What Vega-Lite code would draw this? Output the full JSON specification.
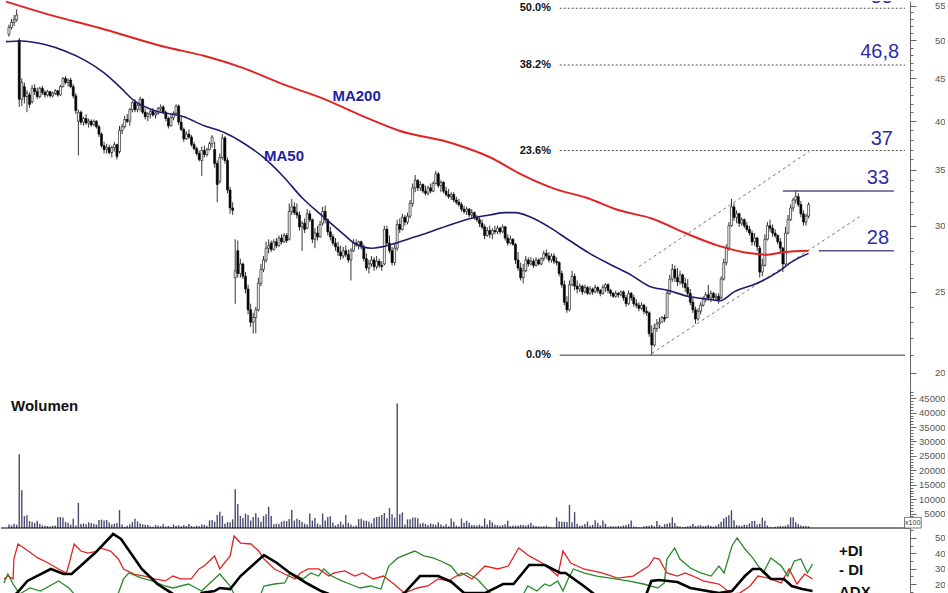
{
"$schema":"https://vega.github.io/schema/vega-lite/v6.json",
"padding":{"top":-3,"left":0,"right":0,"bottom":0},"spacing":0,"bounds":"flush","background":"white",
"config":{"view":{"stroke":null},"font":"Liberation Sans",
 "axis":{"domainColor":"#666","tickColor":"#666","labelColor":"#555","labelFontSize":9.5,"grid":false,"labelOverlap":false,"labelFlush":false,"labelAlign":"right","labelBaseline":"middle","labelPadding":29}},
"datasets":{
"c":[
{"i":0,"o":50.8,"h":52.2,"l":50.5,"c":51.8,"v":1200},{"i":1,"o":51.8,"h":53.0,"l":51.5,"c":52.5,"v":900},{"i":2,"o":52.5,"h":53.6,"l":52.0,"c":52.9,"v":1500},{"i":3,"o":52.9,"h":54.4,"l":52.6,"c":53.6,"v":1100},{"i":4,"o":50.0,"h":50.3,"l":41.6,"c":42.5,"v":25600},{"i":5,"o":42.5,"h":45.0,"l":41.7,"c":44.5,"v":13100},{"i":6,"o":44.0,"h":44.5,"l":42.0,"c":42.8,"v":4100},{"i":7,"o":42.8,"h":43.6,"l":41.0,"c":43.2,"v":4400},{"i":8,"o":43.0,"h":43.3,"l":41.5,"c":41.9,"v":2400},{"i":9,"o":42.2,"h":44.2,"l":42.0,"c":43.8,"v":2200},
{"i":10,"o":43.8,"h":44.3,"l":43.0,"c":43.4,"v":1800},{"i":11,"o":43.4,"h":43.9,"l":42.5,"c":42.8,"v":2500},{"i":12,"o":42.8,"h":44.0,"l":42.6,"c":43.8,"v":1400},{"i":13,"o":43.8,"h":44.1,"l":43.0,"c":43.3,"v":900},{"i":14,"o":43.3,"h":43.6,"l":42.7,"c":43.0,"v":800},{"i":15,"o":43.0,"h":43.6,"l":42.8,"c":43.4,"v":700},{"i":16,"o":43.4,"h":43.5,"l":42.7,"c":42.9,"v":600},{"i":17,"o":42.9,"h":43.4,"l":42.7,"c":43.2,"v":800},{"i":18,"o":43.2,"h":43.7,"l":43.0,"c":43.5,"v":900},{"i":19,"o":43.5,"h":43.6,"l":42.8,"c":43.0,"v":3700},
{"i":20,"o":43.0,"h":44.2,"l":42.9,"c":44.0,"v":3800},{"i":21,"o":44.0,"h":45.2,"l":43.9,"c":45.0,"v":3600},{"i":22,"o":45.0,"h":45.3,"l":44.3,"c":44.5,"v":2100},{"i":23,"o":44.5,"h":45.0,"l":44.0,"c":44.8,"v":1800},{"i":24,"o":44.8,"h":45.1,"l":43.8,"c":44.0,"v":1200},{"i":25,"o":44.0,"h":44.3,"l":42.6,"c":42.9,"v":3200},{"i":26,"o":42.9,"h":43.2,"l":40.8,"c":41.2,"v":900},{"i":27,"o":40.0,"h":41.3,"l":36.4,"c":41.0,"v":8700},{"i":28,"o":41.0,"h":41.2,"l":39.6,"c":39.9,"v":1400},{"i":29,"o":39.9,"h":40.5,"l":39.5,"c":40.3,"v":1600},
{"i":30,"o":40.3,"h":40.8,"l":39.6,"c":39.8,"v":1300},{"i":31,"o":39.8,"h":40.3,"l":39.3,"c":40.0,"v":2000},{"i":32,"o":40.0,"h":40.2,"l":39.4,"c":39.6,"v":1700},{"i":33,"o":39.6,"h":40.2,"l":39.5,"c":40.0,"v":1500},{"i":34,"o":40.0,"h":40.1,"l":39.2,"c":39.4,"v":1200},{"i":35,"o":39.4,"h":39.6,"l":38.3,"c":38.6,"v":2800},{"i":36,"o":38.6,"h":38.8,"l":37.2,"c":37.4,"v":2900},{"i":37,"o":37.4,"h":37.8,"l":36.6,"c":37.0,"v":2600},{"i":38,"o":37.0,"h":37.6,"l":36.6,"c":37.2,"v":2800},{"i":39,"o":37.2,"h":37.5,"l":36.5,"c":36.7,"v":1900},
{"i":40,"o":36.7,"h":37.4,"l":36.2,"c":37.2,"v":1200},{"i":41,"o":37.2,"h":37.8,"l":36.8,"c":37.5,"v":1500},{"i":42,"o":37.5,"h":37.6,"l":36.0,"c":36.3,"v":1700},{"i":43,"o":36.8,"h":39.5,"l":36.6,"c":39.0,"v":6200},{"i":44,"o":39.0,"h":39.7,"l":38.6,"c":39.4,"v":1200},{"i":45,"o":39.4,"h":40.6,"l":39.2,"c":40.2,"v":400},{"i":46,"o":40.2,"h":40.8,"l":39.8,"c":40.0,"v":800},{"i":47,"o":40.0,"h":41.5,"l":39.5,"c":41.3,"v":1300},{"i":48,"o":41.3,"h":42.3,"l":41.0,"c":42.1,"v":2100},{"i":49,"o":42.1,"h":42.5,"l":41.0,"c":41.3,"v":3200},
{"i":50,"o":41.3,"h":42.0,"l":41.0,"c":41.8,"v":2300},{"i":51,"o":41.8,"h":42.8,"l":41.1,"c":42.5,"v":1600},{"i":52,"o":42.5,"h":42.6,"l":40.8,"c":41.0,"v":1300},{"i":53,"o":41.0,"h":41.4,"l":40.2,"c":40.5,"v":1100},{"i":54,"o":40.5,"h":41.0,"l":40.0,"c":40.8,"v":1000},{"i":55,"o":40.8,"h":41.3,"l":40.3,"c":41.1,"v":600},{"i":56,"o":41.1,"h":41.5,"l":40.5,"c":40.7,"v":400},{"i":57,"o":40.7,"h":41.0,"l":40.3,"c":40.9,"v":1000},{"i":58,"o":40.9,"h":41.6,"l":40.7,"c":41.4,"v":900},{"i":59,"o":41.4,"h":41.9,"l":41.1,"c":41.6,"v":600},
{"i":60,"o":41.6,"h":41.8,"l":40.8,"c":41.0,"v":1300},{"i":61,"o":41.0,"h":41.2,"l":40.0,"c":40.3,"v":500},{"i":62,"o":40.3,"h":40.5,"l":39.2,"c":39.5,"v":700},{"i":63,"o":39.5,"h":40.7,"l":39.4,"c":40.4,"v":400},{"i":64,"o":40.4,"h":41.1,"l":40.1,"c":40.9,"v":1200},{"i":65,"o":40.9,"h":41.9,"l":40.6,"c":41.7,"v":800},{"i":66,"o":41.7,"h":41.9,"l":39.6,"c":39.9,"v":900},{"i":67,"o":39.9,"h":40.6,"l":38.9,"c":39.1,"v":600},{"i":68,"o":39.1,"h":39.3,"l":37.8,"c":38.1,"v":1000},{"i":69,"o":38.1,"h":38.9,"l":38.0,"c":38.6,"v":700},
{"i":70,"o":38.6,"h":39.1,"l":38.1,"c":38.3,"v":1400},{"i":71,"o":38.3,"h":38.5,"l":37.3,"c":37.5,"v":700},{"i":72,"o":37.5,"h":37.8,"l":36.9,"c":37.1,"v":500},{"i":73,"o":37.1,"h":37.3,"l":36.4,"c":36.6,"v":800},{"i":74,"o":36.6,"h":36.9,"l":35.8,"c":36.0,"v":600},{"i":75,"o":35.9,"h":37.3,"l":34.4,"c":36.9,"v":1200},{"i":76,"o":36.9,"h":37.4,"l":36.2,"c":36.5,"v":1100},{"i":77,"o":36.5,"h":37.2,"l":36.3,"c":37.0,"v":800},{"i":78,"o":37.0,"h":37.8,"l":36.9,"c":37.6,"v":2600},{"i":79,"o":37.6,"h":38.5,"l":37.2,"c":38.3,"v":2800},
{"i":80,"o":37.0,"h":37.8,"l":35.2,"c":35.6,"v":2200},{"i":81,"o":35.6,"h":35.9,"l":32.0,"c":33.6,"v":4500},{"i":82,"o":33.9,"h":36.6,"l":33.7,"c":36.2,"v":5600},{"i":83,"o":36.2,"h":38.6,"l":36.0,"c":38.2,"v":4200},{"i":84,"o":38.2,"h":38.4,"l":35.6,"c":35.9,"v":1500},{"i":85,"o":35.9,"h":36.2,"l":32.8,"c":33.1,"v":2100},{"i":86,"o":33.1,"h":33.4,"l":31.0,"c":31.5,"v":2000},{"i":87,"o":31.5,"h":32.0,"l":30.9,"c":31.3,"v":3000},{"i":88,"o":26.0,"h":28.9,"l":24.2,"c":26.5,"v":13400},{"i":89,"o":28.0,"h":28.8,"l":26.0,"c":26.3,"v":8300},
{"i":90,"o":26.3,"h":27.4,"l":26.0,"c":27.0,"v":4200},{"i":91,"o":27.0,"h":27.1,"l":25.9,"c":26.1,"v":3500},{"i":92,"o":26.1,"h":26.4,"l":24.9,"c":25.2,"v":5000},{"i":93,"o":25.2,"h":25.5,"l":23.5,"c":23.8,"v":4500},{"i":94,"o":23.8,"h":24.2,"l":22.7,"c":23.0,"v":2600},{"i":95,"o":23.0,"h":23.6,"l":22.3,"c":23.3,"v":3800},{"i":96,"o":23.3,"h":24.0,"l":22.3,"c":23.8,"v":5100},{"i":97,"o":23.8,"h":26.0,"l":23.7,"c":25.6,"v":3600},{"i":98,"o":25.6,"h":27.0,"l":25.4,"c":26.6,"v":2200},{"i":99,"o":26.6,"h":27.6,"l":26.4,"c":27.3,"v":4100},
{"i":100,"o":27.3,"h":28.7,"l":27.1,"c":28.2,"v":4800},{"i":101,"o":28.2,"h":28.9,"l":27.8,"c":28.4,"v":7300},{"i":102,"o":28.6,"h":28.8,"l":27.9,"c":28.1,"v":4200},{"i":103,"o":28.1,"h":28.9,"l":28.0,"c":28.7,"v":1300},{"i":104,"o":28.7,"h":29.0,"l":28.2,"c":28.4,"v":1500},{"i":105,"o":28.4,"h":29.2,"l":28.3,"c":29.0,"v":1400},{"i":106,"o":29.0,"h":29.3,"l":28.5,"c":28.7,"v":2200},{"i":107,"o":28.7,"h":29.4,"l":28.6,"c":29.2,"v":2500},{"i":108,"o":29.2,"h":29.4,"l":28.6,"c":28.8,"v":2400},{"i":109,"o":28.9,"h":31.9,"l":28.8,"c":31.2,"v":3100},
{"i":110,"o":31.2,"h":32.3,"l":30.9,"c":31.6,"v":6200},{"i":111,"o":31.6,"h":32.0,"l":30.9,"c":31.1,"v":2600},{"i":112,"o":31.1,"h":31.9,"l":30.6,"c":30.9,"v":3200},{"i":113,"o":30.9,"h":31.2,"l":29.6,"c":29.9,"v":2800},{"i":114,"o":29.9,"h":30.4,"l":28.0,"c":30.2,"v":2100},{"i":115,"o":30.2,"h":30.6,"l":29.4,"c":29.7,"v":1500},{"i":116,"o":29.8,"h":31.4,"l":29.7,"c":31.0,"v":1200},{"i":117,"o":31.0,"h":31.3,"l":30.3,"c":30.5,"v":5000},{"i":118,"o":30.5,"h":30.6,"l":28.6,"c":28.9,"v":2600},{"i":119,"o":28.9,"h":29.8,"l":28.2,"c":29.4,"v":3500},
{"i":120,"o":29.4,"h":30.0,"l":28.8,"c":29.1,"v":1600},{"i":121,"o":29.1,"h":30.4,"l":29.0,"c":30.1,"v":1000},{"i":122,"o":30.2,"h":31.6,"l":30.0,"c":31.2,"v":5000},{"i":123,"o":31.2,"h":31.7,"l":30.2,"c":30.5,"v":2600},{"i":124,"o":30.5,"h":30.6,"l":29.2,"c":29.5,"v":3800},{"i":125,"o":29.5,"h":29.9,"l":28.8,"c":29.1,"v":4100},{"i":126,"o":29.1,"h":29.3,"l":28.4,"c":28.6,"v":1800},{"i":127,"o":28.6,"h":29.0,"l":28.0,"c":28.3,"v":900},{"i":128,"o":28.3,"h":28.7,"l":27.6,"c":27.9,"v":1400},{"i":129,"o":27.9,"h":28.4,"l":27.3,"c":27.6,"v":2200},
{"i":130,"o":27.6,"h":28.3,"l":27.4,"c":28.0,"v":1200},{"i":131,"o":28.0,"h":28.4,"l":27.5,"c":27.7,"v":4500},{"i":132,"o":27.7,"h":28.1,"l":27.1,"c":27.3,"v":1800},{"i":133,"o":27.3,"h":28.2,"l":25.8,"c":28.0,"v":1200},{"i":134,"o":28.0,"h":28.9,"l":27.9,"c":28.6,"v":600},{"i":135,"o":28.6,"h":28.9,"l":28.3,"c":28.5,"v":900},{"i":136,"o":28.5,"h":28.8,"l":28.1,"c":28.7,"v":3100},{"i":137,"o":28.7,"h":28.8,"l":28.1,"c":28.3,"v":3200},{"i":138,"o":28.3,"h":28.5,"l":27.2,"c":27.4,"v":2600},{"i":139,"o":27.4,"h":27.8,"l":26.5,"c":26.7,"v":2500},
{"i":140,"o":26.7,"h":27.3,"l":26.3,"c":27.0,"v":2200},{"i":141,"o":27.0,"h":27.6,"l":26.8,"c":27.3,"v":1600},{"i":142,"o":27.3,"h":27.5,"l":26.5,"c":26.8,"v":3500},{"i":143,"o":26.8,"h":27.6,"l":26.6,"c":27.2,"v":3800},{"i":144,"o":27.2,"h":27.4,"l":26.7,"c":26.9,"v":4000},{"i":145,"o":26.9,"h":27.2,"l":26.5,"c":26.8,"v":4500},{"i":146,"o":27.0,"h":30.0,"l":26.9,"c":29.7,"v":5200},{"i":147,"o":29.7,"h":30.0,"l":28.4,"c":28.6,"v":3400},{"i":148,"o":28.6,"h":29.2,"l":27.8,"c":28.0,"v":6900},{"i":149,"o":28.0,"h":28.3,"l":26.9,"c":27.1,"v":4800},
{"i":150,"o":27.1,"h":28.5,"l":26.9,"c":28.2,"v":3600},{"i":151,"o":28.2,"h":30.5,"l":28.0,"c":30.1,"v":43200},{"i":152,"o":30.1,"h":30.6,"l":29.4,"c":29.7,"v":4800},{"i":153,"o":29.7,"h":31.0,"l":29.6,"c":30.7,"v":5400},{"i":154,"o":30.7,"h":30.9,"l":30.0,"c":30.3,"v":1200},{"i":155,"o":30.3,"h":31.1,"l":30.1,"c":30.8,"v":3000},{"i":156,"o":30.8,"h":32.2,"l":30.6,"c":31.9,"v":3000},{"i":157,"o":31.9,"h":33.7,"l":31.6,"c":33.3,"v":3600},{"i":158,"o":33.3,"h":34.5,"l":32.9,"c":34.0,"v":3600},{"i":159,"o":34.0,"h":34.1,"l":33.0,"c":33.3,"v":3400},
{"i":160,"o":33.3,"h":33.9,"l":33.0,"c":33.6,"v":1500},{"i":161,"o":33.6,"h":33.7,"l":32.8,"c":33.0,"v":1800},{"i":162,"o":33.0,"h":33.5,"l":32.6,"c":32.8,"v":1400},{"i":163,"o":32.8,"h":33.5,"l":32.6,"c":33.3,"v":1000},{"i":164,"o":33.3,"h":33.7,"l":32.8,"c":33.0,"v":1600},{"i":165,"o":33.0,"h":33.9,"l":32.9,"c":33.7,"v":1300},{"i":166,"o":33.7,"h":34.9,"l":33.6,"c":34.6,"v":1100},{"i":167,"o":34.6,"h":34.8,"l":33.3,"c":33.5,"v":2000},{"i":168,"o":33.5,"h":34.0,"l":32.9,"c":33.8,"v":1200},{"i":169,"o":33.8,"h":33.9,"l":32.8,"c":33.0,"v":700},
{"i":170,"o":33.0,"h":33.4,"l":32.5,"c":32.7,"v":1300},{"i":171,"o":32.7,"h":33.2,"l":32.3,"c":32.5,"v":600},{"i":172,"o":32.5,"h":32.9,"l":32.2,"c":32.7,"v":3300},{"i":173,"o":32.7,"h":32.9,"l":32.0,"c":32.2,"v":2200},{"i":174,"o":32.2,"h":32.5,"l":31.8,"c":32.0,"v":800},{"i":175,"o":32.0,"h":32.3,"l":31.6,"c":31.8,"v":500},{"i":176,"o":31.8,"h":32.0,"l":31.2,"c":31.4,"v":3300},{"i":177,"o":31.4,"h":31.7,"l":31.0,"c":31.2,"v":1800},{"i":178,"o":31.2,"h":31.6,"l":30.9,"c":31.4,"v":2500},{"i":179,"o":31.4,"h":31.5,"l":30.7,"c":30.9,"v":1800},
{"i":180,"o":30.9,"h":31.4,"l":30.6,"c":31.1,"v":1000},{"i":181,"o":31.1,"h":31.2,"l":30.5,"c":30.7,"v":1000},{"i":182,"o":30.7,"h":30.9,"l":30.3,"c":30.5,"v":900},{"i":183,"o":30.5,"h":30.8,"l":29.9,"c":30.2,"v":1200},{"i":184,"o":30.2,"h":30.5,"l":29.7,"c":29.9,"v":700},{"i":185,"o":29.9,"h":30.1,"l":28.9,"c":29.2,"v":3300},{"i":186,"o":29.2,"h":29.9,"l":29.1,"c":29.6,"v":1200},{"i":187,"o":29.6,"h":30.0,"l":29.0,"c":29.3,"v":2700},{"i":188,"o":29.3,"h":29.8,"l":28.9,"c":29.6,"v":2000},{"i":189,"o":29.6,"h":30.0,"l":29.3,"c":29.5,"v":1100},
{"i":190,"o":29.5,"h":30.0,"l":29.3,"c":29.8,"v":1000},{"i":191,"o":29.8,"h":29.9,"l":29.3,"c":29.5,"v":800},{"i":192,"o":29.5,"h":30.1,"l":29.4,"c":29.9,"v":1000},{"i":193,"o":29.9,"h":30.0,"l":28.8,"c":29.0,"v":1300},{"i":194,"o":29.0,"h":29.3,"l":28.4,"c":28.6,"v":2500},{"i":195,"o":28.6,"h":29.2,"l":28.5,"c":28.9,"v":700},{"i":196,"o":28.9,"h":29.0,"l":28.4,"c":28.5,"v":900},{"i":197,"o":28.5,"h":28.6,"l":27.0,"c":27.3,"v":800},{"i":198,"o":27.3,"h":27.9,"l":26.5,"c":26.7,"v":900},{"i":199,"o":26.7,"h":27.1,"l":25.8,"c":26.0,"v":1100},
{"i":200,"o":26.0,"h":27.0,"l":25.6,"c":26.5,"v":1000},{"i":201,"o":26.5,"h":27.6,"l":26.4,"c":27.3,"v":900},{"i":202,"o":27.3,"h":27.5,"l":26.8,"c":27.0,"v":1200},{"i":203,"o":27.0,"h":27.5,"l":26.9,"c":27.2,"v":1800},{"i":204,"o":27.2,"h":27.4,"l":26.7,"c":26.9,"v":900},{"i":205,"o":26.9,"h":27.5,"l":26.8,"c":27.3,"v":700},{"i":206,"o":27.3,"h":27.4,"l":26.9,"c":27.0,"v":600},{"i":207,"o":27.0,"h":27.5,"l":26.9,"c":27.4,"v":500},{"i":208,"o":27.4,"h":28.0,"l":27.2,"c":27.8,"v":600},{"i":209,"o":27.8,"h":28.1,"l":27.4,"c":27.6,"v":800},
{"i":210,"o":27.6,"h":27.9,"l":27.1,"c":27.3,"v":400},{"i":211,"o":27.3,"h":27.8,"l":27.1,"c":27.6,"v":200},{"i":212,"o":27.6,"h":27.8,"l":27.0,"c":27.2,"v":100},{"i":213,"o":27.2,"h":27.5,"l":26.9,"c":27.1,"v":3700},{"i":214,"o":27.1,"h":27.2,"l":26.1,"c":26.3,"v":2300},{"i":215,"o":26.3,"h":26.5,"l":25.3,"c":25.5,"v":2200},{"i":216,"o":25.5,"h":25.8,"l":24.1,"c":24.3,"v":2200},{"i":217,"o":24.3,"h":24.7,"l":23.6,"c":23.8,"v":2100},{"i":218,"o":23.8,"h":25.8,"l":23.7,"c":25.5,"v":8000},{"i":219,"o":25.5,"h":26.5,"l":25.4,"c":26.1,"v":2000},
{"i":220,"o":26.1,"h":26.3,"l":25.1,"c":25.4,"v":5500},{"i":221,"o":25.4,"h":25.8,"l":24.9,"c":25.2,"v":1500},{"i":222,"o":25.2,"h":25.6,"l":25.0,"c":25.4,"v":800},{"i":223,"o":25.4,"h":25.5,"l":24.8,"c":25.0,"v":900},{"i":224,"o":25.0,"h":25.5,"l":24.9,"c":25.3,"v":1400},{"i":225,"o":25.3,"h":25.4,"l":24.8,"c":24.9,"v":2200},{"i":226,"o":24.9,"h":25.4,"l":24.8,"c":25.2,"v":900},{"i":227,"o":25.2,"h":25.3,"l":24.8,"c":25.0,"v":1100},{"i":228,"o":25.0,"h":25.5,"l":24.9,"c":25.3,"v":2700},{"i":229,"o":25.3,"h":25.4,"l":24.9,"c":25.1,"v":1800},
{"i":230,"o":25.1,"h":25.2,"l":24.7,"c":24.9,"v":900},{"i":231,"o":24.9,"h":25.5,"l":24.8,"c":25.3,"v":2600},{"i":232,"o":25.3,"h":25.6,"l":25.0,"c":25.5,"v":1500},{"i":233,"o":25.5,"h":25.6,"l":24.9,"c":25.1,"v":400},{"i":234,"o":25.1,"h":25.2,"l":24.7,"c":24.9,"v":600},{"i":235,"o":24.9,"h":25.0,"l":24.6,"c":24.7,"v":600},{"i":236,"o":24.7,"h":25.1,"l":24.6,"c":24.9,"v":500},{"i":237,"o":24.9,"h":25.0,"l":24.6,"c":24.8,"v":700},{"i":238,"o":24.8,"h":25.1,"l":24.7,"c":25.0,"v":600},{"i":239,"o":25.0,"h":25.1,"l":24.4,"c":24.6,"v":900},
{"i":240,"o":24.6,"h":24.8,"l":24.0,"c":24.2,"v":1000},{"i":241,"o":24.2,"h":25.1,"l":24.1,"c":24.9,"v":1400},{"i":242,"o":24.9,"h":25.0,"l":24.4,"c":24.6,"v":2600},{"i":243,"o":24.6,"h":24.8,"l":24.0,"c":24.2,"v":500},{"i":244,"o":24.2,"h":24.5,"l":23.9,"c":24.1,"v":400},{"i":245,"o":24.1,"h":24.3,"l":23.7,"c":23.9,"v":300},{"i":246,"o":23.9,"h":24.3,"l":23.8,"c":24.1,"v":200},{"i":247,"o":24.1,"h":24.2,"l":23.5,"c":23.7,"v":600},{"i":248,"o":23.7,"h":24.0,"l":23.4,"c":23.6,"v":700},{"i":249,"o":23.6,"h":23.7,"l":22.1,"c":22.3,"v":800},
{"i":250,"o":22.3,"h":22.8,"l":21.0,"c":21.6,"v":1000},{"i":251,"o":21.6,"h":22.9,"l":21.5,"c":22.6,"v":600},{"i":252,"o":22.6,"h":23.2,"l":22.4,"c":22.9,"v":2400},{"i":253,"o":22.9,"h":23.3,"l":22.6,"c":23.0,"v":1100},{"i":254,"o":23.0,"h":23.4,"l":23.0,"c":23.3,"v":500},{"i":255,"o":23.3,"h":23.5,"l":23.0,"c":23.2,"v":1300},{"i":256,"o":23.3,"h":25.1,"l":23.3,"c":24.9,"v":1500},{"i":257,"o":24.9,"h":26.2,"l":24.8,"c":25.9,"v":1800},{"i":258,"o":25.9,"h":27.0,"l":25.7,"c":26.6,"v":3700},{"i":259,"o":26.6,"h":26.9,"l":25.7,"c":26.0,"v":1700},
{"i":260,"o":26.0,"h":26.7,"l":25.4,"c":25.7,"v":700},{"i":261,"o":25.7,"h":26.5,"l":25.5,"c":26.2,"v":500},{"i":262,"o":26.2,"h":26.3,"l":25.3,"c":25.6,"v":300},{"i":263,"o":25.6,"h":26.0,"l":25.0,"c":25.3,"v":400},{"i":264,"o":25.3,"h":25.9,"l":24.7,"c":24.9,"v":600},{"i":265,"o":24.9,"h":25.2,"l":24.1,"c":24.3,"v":800},{"i":266,"o":24.3,"h":24.6,"l":23.6,"c":23.8,"v":1400},{"i":267,"o":23.8,"h":24.0,"l":22.9,"c":23.2,"v":700},{"i":268,"o":23.2,"h":23.9,"l":23.1,"c":23.7,"v":900},{"i":269,"o":23.7,"h":24.3,"l":23.5,"c":24.1,"v":1000},
{"i":270,"o":24.1,"h":24.7,"l":24.0,"c":24.5,"v":600},{"i":271,"o":24.5,"h":25.0,"l":24.3,"c":24.8,"v":800},{"i":272,"o":24.8,"h":25.5,"l":24.4,"c":24.6,"v":1000},{"i":273,"o":24.6,"h":25.1,"l":24.3,"c":24.9,"v":700},{"i":274,"o":24.9,"h":25.0,"l":24.4,"c":24.6,"v":500},{"i":275,"o":24.6,"h":24.9,"l":24.4,"c":24.7,"v":800},{"i":276,"o":24.7,"h":24.9,"l":24.2,"c":24.4,"v":1300},{"i":277,"o":24.6,"h":26.1,"l":24.5,"c":25.9,"v":2200},{"i":278,"o":25.9,"h":27.4,"l":25.8,"c":27.1,"v":3300},{"i":279,"o":27.1,"h":28.5,"l":26.9,"c":28.2,"v":3800},
{"i":280,"o":28.2,"h":30.3,"l":28.0,"c":30.0,"v":4400},{"i":281,"o":30.0,"h":32.3,"l":29.9,"c":31.6,"v":6200},{"i":282,"o":31.6,"h":31.9,"l":30.4,"c":30.7,"v":2700},{"i":283,"o":30.7,"h":31.3,"l":30.2,"c":31.0,"v":1000},{"i":284,"o":31.0,"h":31.1,"l":29.9,"c":30.2,"v":900},{"i":285,"o":30.2,"h":30.7,"l":30.0,"c":30.5,"v":800},{"i":286,"o":30.5,"h":30.6,"l":29.8,"c":30.0,"v":1200},{"i":287,"o":30.0,"h":30.3,"l":29.5,"c":29.7,"v":1000},{"i":288,"o":29.7,"h":30.0,"l":29.2,"c":29.4,"v":1600},{"i":289,"o":29.4,"h":29.6,"l":28.4,"c":28.7,"v":2400},
{"i":290,"o":28.7,"h":29.4,"l":28.4,"c":29.0,"v":2500},{"i":291,"o":29.0,"h":29.1,"l":28.0,"c":28.3,"v":1200},{"i":292,"o":28.2,"h":28.4,"l":26.0,"c":26.4,"v":1500},{"i":293,"o":26.4,"h":27.4,"l":26.1,"c":26.9,"v":3600},{"i":294,"o":26.9,"h":29.3,"l":26.8,"c":28.9,"v":2500},{"i":295,"o":28.9,"h":30.3,"l":28.8,"c":30.0,"v":900},{"i":296,"o":30.0,"h":30.5,"l":29.5,"c":29.8,"v":300},{"i":297,"o":29.8,"h":30.1,"l":29.1,"c":29.4,"v":200},{"i":298,"o":29.4,"h":29.7,"l":29.0,"c":29.2,"v":400},{"i":299,"o":29.2,"h":29.3,"l":28.5,"c":28.7,"v":500},
{"i":300,"o":28.7,"h":29.0,"l":27.9,"c":28.2,"v":700},{"i":301,"o":28.2,"h":28.3,"l":26.4,"c":27.0,"v":600},{"i":302,"o":27.0,"h":29.9,"l":26.9,"c":29.4,"v":800},{"i":303,"o":29.4,"h":30.9,"l":29.3,"c":30.5,"v":1200},{"i":304,"o":30.5,"h":31.8,"l":30.4,"c":31.5,"v":3700},{"i":305,"o":31.5,"h":32.4,"l":31.2,"c":32.2,"v":3700},{"i":306,"o":32.2,"h":33.1,"l":31.9,"c":32.5,"v":2000},{"i":307,"o":32.5,"h":32.8,"l":31.6,"c":31.8,"v":1300},{"i":308,"o":31.8,"h":32.1,"l":30.7,"c":31.0,"v":900},{"i":309,"o":31.0,"h":31.3,"l":30.0,"c":30.3,"v":700},
{"i":310,"o":30.3,"h":31.0,"l":30.0,"c":30.8,"v":800},{"i":311,"o":30.8,"h":32.0,"l":30.6,"c":31.8,"v":600}
],
"ma50":[{"i":-1.15,"p":49.8},{"i":4.6,"p":49.9},{"i":14,"p":49.4},{"i":22,"p":48.5},{"i":29.6,"p":47.3},{"i":37,"p":45.7},{"i":43,"p":44.0},{"i":48.8,"p":42.3},{"i":56.5,"p":41.2},{"i":68,"p":40.5},{"i":76,"p":39.5},{"i":83.5,"p":38.8},{"i":91,"p":37.7},{"i":99,"p":36.2},{"i":106.5,"p":34.4},{"i":114,"p":32.4},{"i":122,"p":30.8},{"i":129.6,"p":29.4},{"i":135,"p":28.5},{"i":141,"p":28.2},{"i":149,"p":28.5},{"i":156.5,"p":29.0},{"i":164,"p":29.5},{"i":172,"p":30.1},{"i":179.6,"p":30.6},{"i":187,"p":30.9},{"i":193,"p":31.1},{"i":197,"p":31.1},{"i":203,"p":30.7},{"i":210,"p":29.9},{"i":218,"p":28.8},{"i":225.8,"p":27.8},{"i":233.5,"p":27.0},{"i":241,"p":26.3},{"i":249,"p":25.4},{"i":256.5,"p":25.1},{"i":264,"p":24.7},{"i":272,"p":24.5},{"i":276.5,"p":24.4},{"i":282,"p":25.0},{"i":291,"p":25.6},{"i":299,"p":26.4},{"i":304,"p":27.1},{"i":311,"p":27.8}],
"ma200":[{"i":-1.15,"p":55.6},{"i":14.2,"p":53.8},{"i":37.3,"p":51.5},{"i":60.4,"p":49.1},{"i":75.8,"p":47.9},{"i":91.2,"p":46.3},{"i":106.5,"p":44.3},{"i":122,"p":42.6},{"i":137.3,"p":40.6},{"i":151.5,"p":39.0},{"i":173,"p":37.6},{"i":187.3,"p":36.2},{"i":198.8,"p":34.6},{"i":212.3,"p":33.2},{"i":224.6,"p":32.4},{"i":237.3,"p":31.3},{"i":250,"p":30.6},{"i":263,"p":29.4},{"i":275.8,"p":28.4},{"i":288.5,"p":27.8},{"i":295,"p":27.7},{"i":301.5,"p":27.9},{"i":311,"p":28.0}],
"adx":[{"i":0,"v":9},{"i":5,"v":14.1},{"i":9,"v":22.0},{"i":18,"v":29.8},{"i":23,"v":26.5},{"i":26,"v":26.5},{"i":35,"v":40.2},{"i":42,"v":52.6},{"i":45,"v":49.4},{"i":53,"v":29.8},{"i":59,"v":20.0},{"i":65,"v":13.5},{"i":70,"v":11},{"i":75,"v":11},{"i":76,"v":14.1},{"i":81,"v":15.4},{"i":83,"v":17.4},{"i":87,"v":16.7},{"i":91,"v":25.2},{"i":100,"v":38.9},{"i":105,"v":33.7},{"i":110,"v":27.2},{"i":117,"v":20.0},{"i":122,"v":15.4},{"i":125,"v":13.5},{"i":135,"v":10},{"i":145,"v":10},{"i":150,"v":11},{"i":154,"v":14.1},{"i":160,"v":25.2},{"i":167,"v":25.2},{"i":172,"v":21.5},{"i":177,"v":14.1},{"i":185,"v":14.1},{"i":192,"v":20.0},{"i":196,"v":20.0},{"i":202,"v":32.4},{"i":208,"v":32.4},{"i":214,"v":27.2},{"i":216,"v":27.2},{"i":223,"v":18.7},{"i":227,"v":13.5},{"i":235,"v":9},{"i":245,"v":9},{"i":247,"v":13},{"i":249,"v":22.0},{"i":252,"v":22.6},{"i":259,"v":21.3},{"i":264,"v":17.4},{"i":275,"v":14.1},{"i":280,"v":15.4},{"i":285,"v":25.2},{"i":288,"v":29.8},{"i":291,"v":29.8},{"i":295,"v":23.3},{"i":300,"v":23.3},{"i":303,"v":18.7},{"i":307,"v":16.7},{"i":311,"v":15.4}],
"mdi":[{"i":0,"v":23.3},{"i":1.5,"v":25.2},{"i":3.5,"v":23.3},{"i":3.8,"v":36.3},{"i":5.4,"v":46.1},{"i":7.7,"v":43.5},{"i":10.4,"v":40.2},{"i":13,"v":37.0},{"i":17,"v":33.7},{"i":21,"v":29.8},{"i":24,"v":27.2},{"i":25,"v":33.0},{"i":27,"v":46.1},{"i":29.6,"v":41.5},{"i":32.3,"v":40.2},{"i":36,"v":41.5},{"i":37,"v":43.5},{"i":41,"v":41.5},{"i":44,"v":36.3},{"i":46,"v":29.8},{"i":50,"v":26.5},{"i":54,"v":25.2},{"i":58,"v":23.3},{"i":62,"v":22.0},{"i":65,"v":25.2},{"i":68,"v":23.3},{"i":72,"v":23.3},{"i":75,"v":29.8},{"i":77,"v":31.7},{"i":81,"v":38.3},{"i":83,"v":29.8},{"i":87,"v":38.3},{"i":88.5,"v":51.3},{"i":91,"v":46.7},{"i":95,"v":46.1},{"i":98,"v":41.5},{"i":100,"v":36.3},{"i":104,"v":29.8},{"i":108,"v":26.5},{"i":112,"v":23.3},{"i":114,"v":27.2},{"i":117,"v":29.8},{"i":121,"v":29.8},{"i":125,"v":25.2},{"i":127,"v":27.2},{"i":131,"v":28.5},{"i":135,"v":25.2},{"i":138,"v":27.2},{"i":142,"v":23.3},{"i":146,"v":25.2},{"i":150,"v":20.0},{"i":154,"v":14.1},{"i":159,"v":17.4},{"i":163,"v":18.7},{"i":167,"v":23.3},{"i":171,"v":22.0},{"i":176,"v":27.2},{"i":180,"v":23.3},{"i":185,"v":31.7},{"i":190,"v":29.8},{"i":194,"v":31.7},{"i":198,"v":43.5},{"i":202,"v":38.3},{"i":207,"v":33.7},{"i":210,"v":29.8},{"i":213,"v":25.2},{"i":215,"v":41.5},{"i":218,"v":33.7},{"i":223,"v":29.8},{"i":230,"v":27.2},{"i":236,"v":23.9},{"i":242,"v":25.2},{"i":248,"v":31.7},{"i":250,"v":37.0},{"i":252,"v":36.3},{"i":255,"v":27.2},{"i":259,"v":25.2},{"i":262,"v":27.2},{"i":265,"v":25.2},{"i":269,"v":22.0},{"i":275,"v":20.0},{"i":280,"v":13.5},{"i":283,"v":14.1},{"i":287,"v":18.7},{"i":290,"v":25.2},{"i":294,"v":23.9},{"i":299,"v":20.7},{"i":302,"v":29.8},{"i":305,"v":20.0},{"i":308,"v":26.5},{"i":311,"v":23.3}],
"pdi":[{"i":0,"v":20.7},{"i":1.5,"v":26.5},{"i":3.5,"v":20.0},{"i":6,"v":13.5},{"i":10,"v":17.4},{"i":14,"v":15.4},{"i":21,"v":22.0},{"i":25,"v":17.4},{"i":27,"v":13.5},{"i":35,"v":10},{"i":40,"v":10},{"i":44,"v":14.1},{"i":46,"v":23.3},{"i":48,"v":27.2},{"i":53,"v":23.9},{"i":57,"v":22.0},{"i":62,"v":18.7},{"i":65,"v":17.4},{"i":71,"v":20.0},{"i":76,"v":15.4},{"i":78,"v":18.7},{"i":83,"v":26.5},{"i":87,"v":18.7},{"i":88.5,"v":13.5},{"i":92,"v":10},{"i":98,"v":10},{"i":100,"v":18.7},{"i":104,"v":20.0},{"i":108,"v":20.7},{"i":110,"v":27.2},{"i":113,"v":25.2},{"i":115,"v":23.3},{"i":118,"v":27.2},{"i":121,"v":25.2},{"i":123,"v":29.8},{"i":126,"v":25.2},{"i":130,"v":22.0},{"i":133,"v":20.0},{"i":137,"v":17.4},{"i":141,"v":18.7},{"i":145,"v":16.7},{"i":148,"v":31.7},{"i":151.5,"v":37.0},{"i":158,"v":41.5},{"i":161.5,"v":38.3},{"i":165,"v":37.0},{"i":168,"v":35.0},{"i":172,"v":31.7},{"i":175,"v":25.2},{"i":178,"v":27.2},{"i":182,"v":23.3},{"i":187,"v":14.1},{"i":190,"v":11},{"i":199,"v":11},{"i":200,"v":14.1},{"i":201.5,"v":18.7},{"i":205,"v":15.4},{"i":208,"v":20.0},{"i":210,"v":18.7},{"i":213,"v":22.0},{"i":215,"v":15.4},{"i":217,"v":23.3},{"i":219,"v":29.8},{"i":223,"v":27.2},{"i":228,"v":25.2},{"i":235,"v":23.3},{"i":240,"v":22.0},{"i":246,"v":20.0},{"i":251.5,"v":17.4},{"i":254,"v":20.7},{"i":255,"v":36.3},{"i":258,"v":43.5},{"i":260,"v":36.3},{"i":264,"v":30.4},{"i":268,"v":27.2},{"i":272,"v":25.2},{"i":275,"v":31.7},{"i":277,"v":27.2},{"i":280,"v":44.8},{"i":282,"v":50.0},{"i":285,"v":42.8},{"i":288,"v":37.0},{"i":292,"v":27.2},{"i":295,"v":37.0},{"i":299,"v":31.7},{"i":301.5,"v":25.2},{"i":304,"v":35.0},{"i":306.5,"v":36.3},{"i":309,"v":27.2},{"i":311,"v":33.0}],
"fib":[{"p":54.6,"t":"50.0%"},{"p":46.7,"t":"38.2%"},{"p":36.9,"t":"23.6%"}],
"fib0":[{"p":21.0,"t":"0.0%"}],
"tgt":[{"p":56.3,"t":"55","e":343.8},{"p":48.4,"t":"46,8","e":346.2},{"p":38.1,"t":"37","e":343.8},{"p":34.2,"t":"33","e":342.3},{"p":29.0,"t":"28","e":342.3}],
"lvl":[{"p":33.0,"a":301,"b":344.2},{"p":28.0,"a":315,"b":344.2}],
"chan":[{"a":245,"pa":26.8,"b":311.2,"pb":36.8},{"a":250,"pa":21.1,"b":331.9,"pb":30.9}],
"malbl":[{"t":"MA200","i":125.8,"p":42.9},{"t":"MA50","i":99.2,"p":36.3}],
"dilbl":[{"t":"+DI","v":41.5},{"t":"- DI","v":29.1},{"t":"ADX","v":14.6}],
"vlbl":[{"t":"Wolumen","i":0.8,"v":42300}],
"zero":[{"k":0}],
"xbox":[{"t":"x100","a":348.3,"b":354.8,"lo":0,"hi":3700,"m":351.5,"mv":1850}]
},
"vconcat":[
{"width":909,"height":390,
 "resolve":{"axis":{"x":"independent","y":"independent"}},
 "layer":[
  {"data":{"name":"c"},"mark":{"type":"rule","color":"#000","strokeWidth":0.8},
   "encoding":{"x":{"field":"i","type":"quantitative","scale":{"domain":[-1.15,348.5],"nice":false,"zero":false},"axis":null},
    "y":{"field":"l","type":"quantitative","title":null,"scale":{"type":"log","domain":[19.03,55.7],"nice":false,"zero":false},
     "axis":{"orient":"right","title":null,"values":[20,21,22,23,24,25,26,27,28,29,30,31,32,33,34,35,36,37,38,39,40,41,42,43,44,45,46,47,48,49,50,51,52,53,54,55],
      "labelExpr":"datum.value % 5 === 0 ? '' + datum.value : ''",
      "tickSize":{"condition":{"test":"datum.value % 5 === 0","value":6},"value":3}}},
    "y2":{"field":"h"}}},
  {"data":{"name":"c"},"mark":{"type":"bar","size":2,"stroke":"#000","strokeWidth":0.6},
   "encoding":{"x":{"field":"i","type":"quantitative","axis":null},
    "y":{"field":"o","type":"quantitative","axis":null},"y2":{"field":"c"},
    "fill":{"condition":{"test":"datum.c >= datum.o","value":"#ffffff"},"value":"#000000"}}},
  {"data":{"name":"fib"},"mark":{"type":"rule","color":"#555","strokeWidth":1,"strokeDash":[2,2]},
   "encoding":{"x":{"datum":214.2,"type":"quantitative","axis":null},"x2":{"datum":348.5},"y":{"field":"p","type":"quantitative","axis":null}}},
  {"data":{"name":"fib0"},"mark":{"type":"rule","color":"#777","strokeWidth":1.3},
   "encoding":{"x":{"datum":214.2,"type":"quantitative","axis":null},"x2":{"datum":348.5},"y":{"field":"p","type":"quantitative","axis":null}}},
  {"data":{"name":"fib"},"mark":{"type":"text","align":"right","baseline":"middle","fontSize":11,"fontWeight":"bold","color":"#111","clip":true},
   "encoding":{"x":{"datum":210.8,"type":"quantitative","axis":null},"y":{"field":"p","type":"quantitative","axis":null},"text":{"field":"t"}}},
  {"data":{"name":"fib0"},"mark":{"type":"text","align":"right","baseline":"middle","fontSize":11,"fontWeight":"bold","color":"#111"},
   "encoding":{"x":{"datum":210.8,"type":"quantitative","axis":null},"y":{"field":"p","type":"quantitative","axis":null},"text":{"field":"t"}}},
  {"data":{"name":"chan"},"mark":{"type":"rule","color":"#666","strokeWidth":0.9,"strokeDash":[3,3]},
   "encoding":{"x":{"field":"a","type":"quantitative","axis":null},"x2":{"field":"b"},"y":{"field":"pa","type":"quantitative","axis":null},"y2":{"field":"pb"}}},
  {"data":{"name":"lvl"},"mark":{"type":"rule","color":"#555588","strokeWidth":1.5},
   "encoding":{"x":{"field":"a","type":"quantitative","axis":null},"x2":{"field":"b"},"y":{"field":"p","type":"quantitative","axis":null}}},
  {"data":{"name":"tgt"},"mark":{"type":"text","align":"right","baseline":"middle","fontSize":20,"color":"#2e2ea8","clip":true},
   "encoding":{"x":{"field":"e","type":"quantitative","axis":null},"y":{"field":"p","type":"quantitative","axis":null},"text":{"field":"t"}}},
  {"data":{"name":"ma200"},"mark":{"type":"line","color":"#e02424","strokeWidth":2,"interpolate":"monotone"},
   "encoding":{"x":{"field":"i","type":"quantitative","axis":null},"y":{"field":"p","type":"quantitative","axis":null}}},
  {"data":{"name":"ma50"},"mark":{"type":"line","color":"#1c1c6e","strokeWidth":1.6,"interpolate":"monotone"},
   "encoding":{"x":{"field":"i","type":"quantitative","axis":null},"y":{"field":"p","type":"quantitative","axis":null}}},
  {"data":{"name":"malbl"},"mark":{"type":"text","align":"left","baseline":"middle","fontSize":15,"fontWeight":"bold","color":"#1e1ea6"},
   "encoding":{"x":{"field":"i","type":"quantitative","axis":null},"y":{"field":"p","type":"quantitative","axis":null},"text":{"field":"t"}}}
 ]},
{"width":909,"height":137,
 "resolve":{"axis":{"x":"independent","y":"independent"}},
 "layer":[
  {"data":{"name":"c"},"mark":{"type":"bar","size":1.4,"color":"#4a4a6e"},
   "encoding":{"x":{"field":"i","type":"quantitative","scale":{"domain":[-1.15,348.5],"nice":false,"zero":false},"axis":null},
    "y":{"field":"v","type":"quantitative","title":null,"scale":{"domain":[0,47500],"nice":false},
     "axis":{"orient":"right","title":null,"values":[1000,2000,3000,4000,5000,6000,7000,8000,9000,10000,11000,12000,13000,14000,15000,16000,17000,18000,19000,20000,21000,22000,23000,24000,25000,26000,27000,28000,29000,30000,31000,32000,33000,34000,35000,36000,37000,38000,39000,40000,41000,42000,43000,44000,45000,46000,47000],
      "labelExpr":"datum.value % 5000 === 0 ? '' + datum.value : ''",
      "tickSize":{"condition":{"test":"datum.value % 5000 === 0","value":6},"value":3}}}}},
  {"data":{"name":"zero"},"mark":{"type":"rule","color":"#000","strokeWidth":1.2},"encoding":{"y":{"field":"k","type":"quantitative","axis":null}}},
  {"data":{"name":"vlbl"},"mark":{"type":"text","align":"left","baseline":"middle","fontSize":15,"fontWeight":"bold","color":"#111"},
   "encoding":{"x":{"field":"i","type":"quantitative","axis":null},"y":{"field":"v","type":"quantitative","axis":null},"text":{"field":"t"}}},
  {"data":{"name":"xbox"},"mark":{"type":"rect","fill":"#fff","stroke":"#555","strokeWidth":0.8},
   "encoding":{"x":{"field":"a","type":"quantitative","axis":null},"x2":{"field":"b"},"y":{"field":"lo","type":"quantitative","axis":null},"y2":{"field":"hi"}}},
  {"data":{"name":"xbox"},"mark":{"type":"text","align":"center","baseline":"middle","fontSize":7,"color":"#333"},
   "encoding":{"x":{"field":"m","type":"quantitative","axis":null},"y":{"field":"mv","type":"quantitative","axis":null},"text":{"field":"t"}}}
 ]},
{"width":909,"height":66,
 "resolve":{"axis":{"x":"independent","y":"independent"}},
 "layer":[
  {"data":{"name":"mdi"},"mark":{"type":"line","color":"#e02424","strokeWidth":1.3,"clip":true},
   "encoding":{"x":{"field":"i","type":"quantitative","scale":{"domain":[-1.15,348.5],"nice":false,"zero":false},"axis":null},
    "y":{"field":"v","type":"quantitative","title":null,"scale":{"domain":[13.48,56.52],"nice":false,"zero":false},
     "axis":{"orient":"right","title":null,"values":[15,20,25,30,35,40,45,50,55],
      "labelExpr":"datum.value % 10 === 0 ? '' + datum.value : ''",
      "tickSize":{"condition":{"test":"datum.value % 10 === 0","value":6},"value":3}}}}},
  {"data":{"name":"pdi"},"mark":{"type":"line","color":"#2a8a2a","strokeWidth":1.3,"clip":true},
   "encoding":{"x":{"field":"i","type":"quantitative","axis":null},"y":{"field":"v","type":"quantitative","axis":null}}},
  {"data":{"name":"adx"},"mark":{"type":"line","color":"#000","strokeWidth":2.6,"clip":true},
   "encoding":{"x":{"field":"i","type":"quantitative","axis":null},"y":{"field":"v","type":"quantitative","axis":null}}},
  {"data":{"name":"dilbl"},"mark":{"type":"text","align":"left","baseline":"middle","fontSize":15,"fontWeight":"bold","color":"#111","clip":true},
   "encoding":{"x":{"datum":321.2,"type":"quantitative","axis":null},"y":{"field":"v","type":"quantitative","axis":null},"text":{"field":"t"}}}
 ]}
]
}
